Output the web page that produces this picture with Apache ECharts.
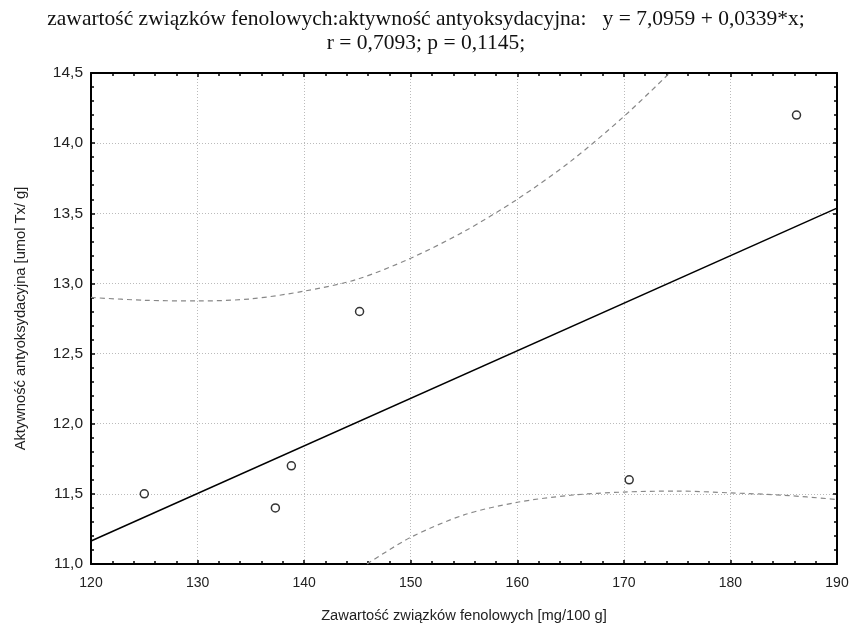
<!DOCTYPE html>
<html>
<head>
<meta charset="utf-8">
<script src="https://cdn.jsdelivr.net/npm/echarts@6/dist/echarts.min.js"></script>
<style>html,body{margin:0;padding:0;background:#fff}#c{width:852px;height:632px}</style>
</head>
<body>
<div id="c"></div>
<script>
// Data
var pointsX = [125, 137.3, 138.8, 145.2, 170.5, 186.2];
var pointsY = [11.5, 11.4, 11.7, 12.8, 11.6, 14.2];
var fitX = [120, 190];
var fitY = [11.164, 13.537];
var upperX = [120, 125, 130, 135, 140, 145, 150, 155, 160, 165, 170, 174.3];
var upperY = [12.9, 12.88, 12.875, 12.89, 12.945, 13.03, 13.18, 13.37, 13.60, 13.87, 14.19, 14.5];
var lowerX = [145.9, 150, 155, 160, 165, 170, 175, 180, 185, 190];
var lowerY = [11.0, 11.19, 11.35, 11.44, 11.49, 11.513, 11.52, 11.507, 11.49, 11.46];
var titleLine1 = 'zawartość związków fenolowych:aktywność antyoksydacyjna:   y = 7,0959 + 0,0339*x;';
var titleLine2 = 'r = 0,7093; p = 0,1145;';
var xName = 'Zawartość związków fenolowych [mg/100 g]';
var yName = 'Aktywność antyoksydacyjna [umol Tx/ g]';

function zip(a, b) { return a.map(function (v, i) { return [v, b[i]]; }); }
function fmtY(v) { return v.toFixed(1).replace('.', ','); }

var chart = echarts.init(document.getElementById('c'));
var lbl = { color: '#222', fontFamily: 'Liberation Sans, Arial', fontSize: 14 };
var nameStyle = { color: '#222', fontFamily: 'Liberation Sans, Arial', fontSize: 14.7 };
var titleStyle = { fontFamily: 'Liberation Serif, Times New Roman', fontSize: 21.5, fontWeight: 'normal', color: '#111' };
var axisCommon = {
  axisLine: { show: true, onZero: false, lineStyle: { color: '#000', width: 2 } },
  axisTick: { show: true, inside: true, length: 4, lineStyle: { color: '#000', width: 1.5 } },
  minorTick: { show: true, splitNumber: 5, length: 3, lineStyle: { color: '#000', width: 1.5 } }
};
var option = {
  animation: false,
  backgroundColor: '#fff',
  title: [
    { text: titleLine1, left: 'center', top: 8, padding: 0, textStyle: titleStyle },
    { text: titleLine2, left: 'center', top: 32, padding: 0, textStyle: titleStyle }
  ],
  grid: { left: 91, right: 15, top: 73, bottom: 68 },
  xAxis: [
    Object.assign({}, axisCommon, {
      type: 'value', min: 120, max: 190, interval: 10,
      name: xName, nameLocation: 'middle', nameGap: 44,
      nameTextStyle: nameStyle,
      axisLabel: Object.assign({ margin: 12 }, lbl),
      splitLine: { show: true, lineStyle: { color: '#bbb', type: [1, 2], width: 1 } }
    }),
    Object.assign({}, axisCommon, {
      type: 'value', min: 120, max: 190, interval: 10, position: 'top',
      axisLabel: { show: false }, splitLine: { show: false }
    })
  ],
  yAxis: [
    Object.assign({}, axisCommon, {
      type: 'value', min: 11, max: 14.5, interval: 0.5,
      name: yName, nameLocation: 'middle', nameGap: 63, nameRotate: 90,
      nameTextStyle: nameStyle,
      axisLabel: Object.assign({ margin: 8, formatter: fmtY }, lbl, { fontSize: 15.5 }),
      splitLine: { show: true, lineStyle: { color: '#bbb', type: [1, 2], width: 1 } }
    }),
    Object.assign({}, axisCommon, {
      type: 'value', min: 11, max: 14.5, interval: 0.5, position: 'right',
      axisLabel: { show: false }, splitLine: { show: false }
    })
  ],
  series: [
    {
      type: 'line', data: zip(upperX, upperY), showSymbol: false, smooth: 0.3, clip: true,
      lineStyle: { color: '#888', width: 1.2, type: [5, 4] }, z: 2
    },
    {
      type: 'line', data: zip(lowerX, lowerY), showSymbol: false, smooth: 0.3, clip: true,
      lineStyle: { color: '#888', width: 1.2, type: [5, 4] }, z: 2
    },
    {
      type: 'line', data: zip(fitX, fitY), showSymbol: false,
      lineStyle: { color: '#000', width: 1.5 }, z: 3
    },
    {
      type: 'scatter', data: zip(pointsX, pointsY), symbol: 'circle', symbolSize: 8,
      itemStyle: { color: '#fff', borderColor: '#000', borderWidth: 1.5 }, z: 4
    }
  ]
};
chart.setOption(option);
</script>
</body>
</html>
